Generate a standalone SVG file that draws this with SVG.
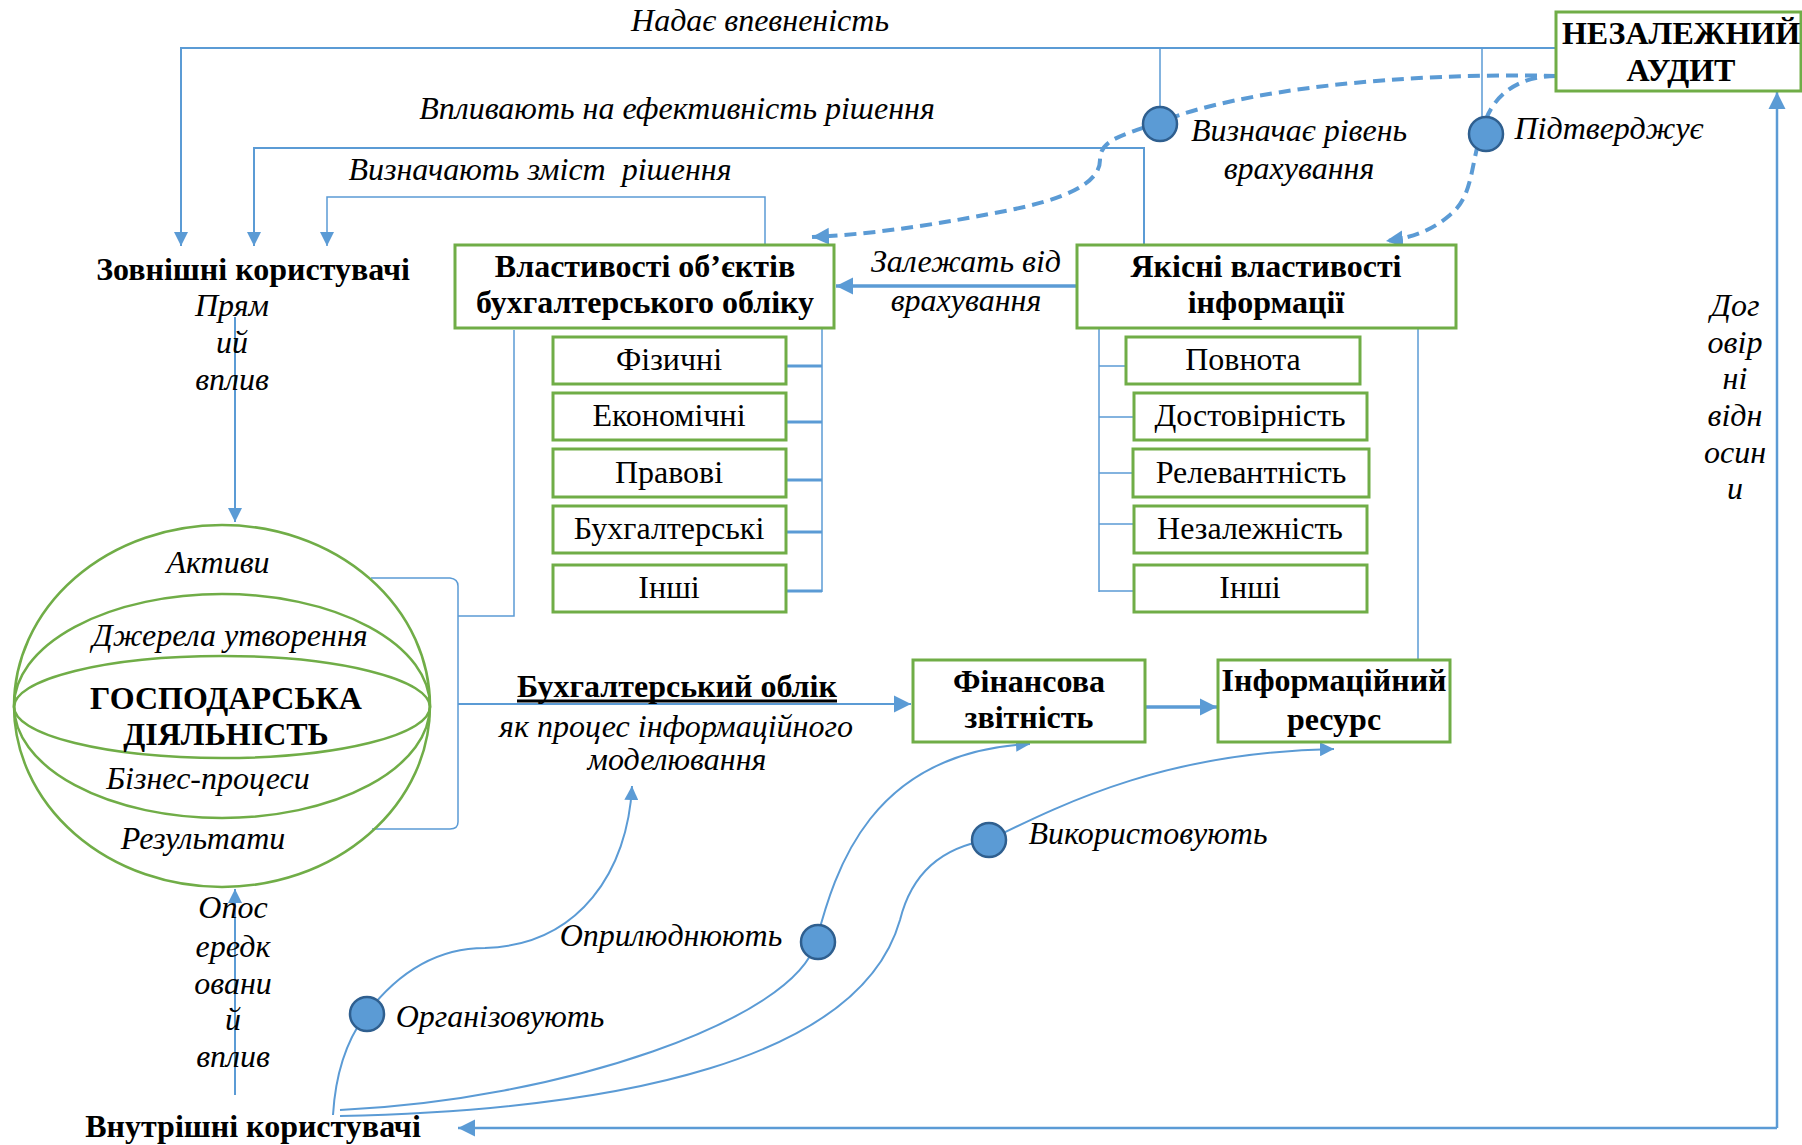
<svg xmlns="http://www.w3.org/2000/svg" width="1802" height="1145" viewBox="0 0 1802 1145">
<style>
text{font-family:"Liberation Serif","Times New Roman",serif;fill:#000;text-anchor:middle}
.b{font-weight:bold;font-size:32px}
.i{font-style:italic;font-size:32px}
.r{font-size:32px}
.box{fill:#fff;stroke:#70ad47;stroke-width:3}
.ln{fill:none;stroke:#5b9bd5;stroke-width:2}
.thin{fill:none;stroke:#5b9bd5;stroke-width:1.5}
.thick{fill:none;stroke:#5b9bd5;stroke-width:3.5}
.dash{fill:none;stroke:#5b9bd5;stroke-width:4;stroke-dasharray:12 7}
.dot{fill:#5b9bd5;stroke:#2f5f8f;stroke-width:2.5}
.glb{fill:none;stroke:#70ad47;stroke-width:2.5}
</style>
<defs>
<marker id="ah" viewBox="0 0 10 10" refX="10" refY="5" markerUnits="userSpaceOnUse" markerWidth="14" markerHeight="14" orient="auto"><path d="M0,0 L10,5 L0,10 z" fill="#5b9bd5"/></marker>
<marker id="ahb" viewBox="0 0 10 10" refX="10" refY="5" markerUnits="userSpaceOnUse" markerWidth="17" markerHeight="18" orient="auto"><path d="M0,0 L10,5 L0,10 z" fill="#5b9bd5"/></marker>
</defs>

<g id="connectors">
  <path class="ln" d="M1556,48 H181 V246" marker-end="url(#ah)"/>
  <path class="thin" d="M1160,48 V108 M1482,48 V118"/>
  <path class="ln" d="M1144,245 V148 H254 V246" marker-end="url(#ah)"/>
  <path class="thin" d="M765,245 V197 H327 V246" marker-end="url(#ah)"/>
  <path class="dash" d="M1556,76 C1400,72 1240,90 1160,122 C1120,136 1100,140 1100,160 C1100,185 1060,200 1010,210 C950,222 880,234 812,237" marker-end="url(#ahb)"/>
  <path class="dash" d="M1556,76 C1515,76 1492,98 1484,125 C1470,160 1475,195 1450,215 C1430,232 1410,238 1386,241" marker-end="url(#ahb)"/>
  <path class="ln" d="M235,317 V522" marker-end="url(#ah)"/>
  <path class="ln" d="M235,1095 V889" marker-end="url(#ah)"/>
  <path class="thin" d="M371,578 H450 Q458,579 458,586 V822 Q458,829 450,829 H372"/>
  <path class="thin" d="M458,616 H514 V330"/>
  <path class="ln" d="M458,704 H911" marker-end="url(#ahb)"/>
  <path class="thick" d="M1077,286 H836" marker-end="url(#ahb)"/>
  <path class="thick" d="M1145,707 H1217" marker-end="url(#ahb)"/>
  <path class="thin" d="M1418,328 V660"/>
  <path class="thin" d="M822,328 V592"/>
  <path class="thick" style="stroke-width:3" d="M786,366 H822 M786,422 H822 M786,480 H822 M786,532 H822 M786,591 H822"/>
  <path class="thin" d="M1099,328 V592 M1099,366 H1126 M1099,417 H1134 M1099,473 H1133 M1099,524 H1134 M1099,591 H1134"/>
  <path class="ln" style="stroke-width:2.5" d="M1777,1128 H458" marker-end="url(#ahb)"/>
  <path class="ln" style="stroke-width:2.5" d="M1777,1128 V92" marker-end="url(#ahb)"/>
  <path class="ln" d="M333,1115 C336,1065 350,1035 367,1013 C400,970 440,948 485,948 C580,945 628,870 632,786" marker-end="url(#ah)"/>
  <path class="ln" d="M340,1110 C560,1100 795,1020 816,942 C835,870 870,752 1030,744" marker-end="url(#ah)"/>
  <path class="ln" d="M340,1116 C620,1110 860,1060 900,920 C910,880 935,848 989,840 C1070,800 1170,752 1334,749" marker-end="url(#ah)"/>
  <circle class="dot" cx="1160" cy="124" r="17"/>
  <circle class="dot" cx="1486" cy="134" r="17"/>
  <circle class="dot" cx="367" cy="1014" r="17"/>
  <circle class="dot" cx="818" cy="942" r="17"/>
  <circle class="dot" cx="989" cy="840" r="17"/>
</g>

<g id="edge-labels">
  <text class="i" x="760" y="31">Надає впевненість</text>
  <text class="i" x="677" y="119">Впливають на ефективність рішення</text>
  <text class="i" x="540" y="180" style="white-space:pre">Визначають зміст  рішення</text>
  <text class="i" x="1299" y="141">Визначає рівень</text>
  <text class="i" x="1299" y="179">врахування</text>
  <text class="i" x="1609" y="139">Підтверджує</text>
  <text class="i" x="966" y="272">Залежать від</text>
  <text class="i" x="966" y="311">врахування</text>
  <text class="i" x="232" y="316">Прям</text>
  <text class="i" x="232" y="353">ий</text>
  <text class="i" x="232" y="390">вплив</text>
  <text class="i" x="233" y="918">Опос</text>
  <text class="i" x="233" y="957">ередк</text>
  <text class="i" x="233" y="994">овани</text>
  <text class="i" x="233" y="1030">й</text>
  <text class="i" x="233" y="1067">вплив</text>
  <text class="i" x="1735" y="316">Дог</text>
  <text class="i" x="1735" y="353">овір</text>
  <text class="i" x="1735" y="389">ні</text>
  <text class="i" x="1735" y="426">відн</text>
  <text class="i" x="1735" y="463">осин</text>
  <text class="i" x="1735" y="499">и</text>
  <text class="i" x="671" y="946">Оприлюднюють</text>
  <text class="i" x="500" y="1027">Організовують</text>
  <text class="i" x="1148" y="844">Використовують</text>
</g>

<g id="audit">
  <rect class="box" x="1556" y="12" width="245" height="79"/>
  <text class="b" x="1681" y="44">НЕЗАЛЕЖНИЙ</text>
  <text class="b" x="1681" y="81">АУДИТ</text>
</g>

<g id="external-users">
  <text class="b" x="253" y="280">Зовнішні користувачі</text>
</g>

<g id="internal-users">
  <text class="b" x="253" y="1137">Внутрішні користувачі</text>
</g>

<g id="object-properties">
  <rect class="box" x="455" y="245" width="379" height="83"/>
  <text class="b" x="645" y="277">Властивості об’єктів</text>
  <text class="b" x="645" y="313">бухгалтерського обліку</text>
</g>
<g id="op-physical"><rect class="box" x="553" y="337" width="233" height="47"/><text class="r" x="669" y="370">Фізичні</text></g>
<g id="op-economic"><rect class="box" x="553" y="393" width="233" height="47"/><text class="r" x="669" y="426">Економічні</text></g>
<g id="op-legal"><rect class="box" x="553" y="449" width="233" height="48"/><text class="r" x="669" y="483">Правові</text></g>
<g id="op-accounting"><rect class="box" x="553" y="506" width="233" height="47"/><text class="r" x="669" y="539">Бухгалтерські</text></g>
<g id="op-other"><rect class="box" x="553" y="565" width="233" height="47"/><text class="r" x="669" y="598">Інші</text></g>

<g id="quality-properties">
  <rect class="box" x="1077" y="245" width="379" height="83"/>
  <text class="b" x="1266" y="277">Якісні властивості</text>
  <text class="b" x="1266" y="313">інформації</text>
</g>
<g id="qp-completeness"><rect class="box" x="1126" y="337" width="234" height="47"/><text class="r" x="1243" y="370">Повнота</text></g>
<g id="qp-reliability"><rect class="box" x="1134" y="393" width="233" height="47"/><text class="r" x="1250" y="426">Достовірність</text></g>
<g id="qp-relevance"><rect class="box" x="1133" y="449" width="236" height="48"/><text class="r" x="1251" y="483">Релевантність</text></g>
<g id="qp-independence"><rect class="box" x="1134" y="506" width="233" height="47"/><text class="r" x="1250" y="539">Незалежність</text></g>
<g id="qp-other"><rect class="box" x="1134" y="565" width="233" height="47"/><text class="r" x="1250" y="598">Інші</text></g>

<g id="business-activity">
  <ellipse class="glb" cx="222" cy="706" rx="208" ry="181"/>
  <ellipse class="glb" cx="222" cy="706" rx="208" ry="112"/>
  <ellipse class="glb" cx="222" cy="707" rx="208" ry="51"/>
  <text class="i" x="218" y="573">Активи</text>
  <text class="i" x="230" y="646">Джерела утворення</text>
  <text class="b" x="226" y="709">ГОСПОДАРСЬКА</text>
  <text class="b" x="226" y="745">ДІЯЛЬНІСТЬ</text>
  <text class="i" x="208" y="789">Бізнес-процеси</text>
  <text class="i" x="203" y="849">Результати</text>
</g>

<g id="accounting">
  <text class="b" x="677" y="697">Бухгалтерський облік</text>
  <line x1="517" y1="701" x2="837" y2="701" stroke="#000" stroke-width="3"/>
  <text class="i" x="676" y="737">як процес інформаційного</text>
  <text class="i" x="677" y="770">моделювання</text>
</g>

<g id="financial-statements">
  <rect class="box" x="913" y="660" width="232" height="82"/>
  <text class="b" x="1029" y="692">Фінансова</text>
  <text class="b" x="1029" y="728">звітність</text>
</g>

<g id="information-resource">
  <rect class="box" x="1218" y="660" width="232" height="82"/>
  <text class="b" x="1334" y="691">Інформаційний</text>
  <text class="b" x="1334" y="730">ресурс</text>
</g>
</svg>
